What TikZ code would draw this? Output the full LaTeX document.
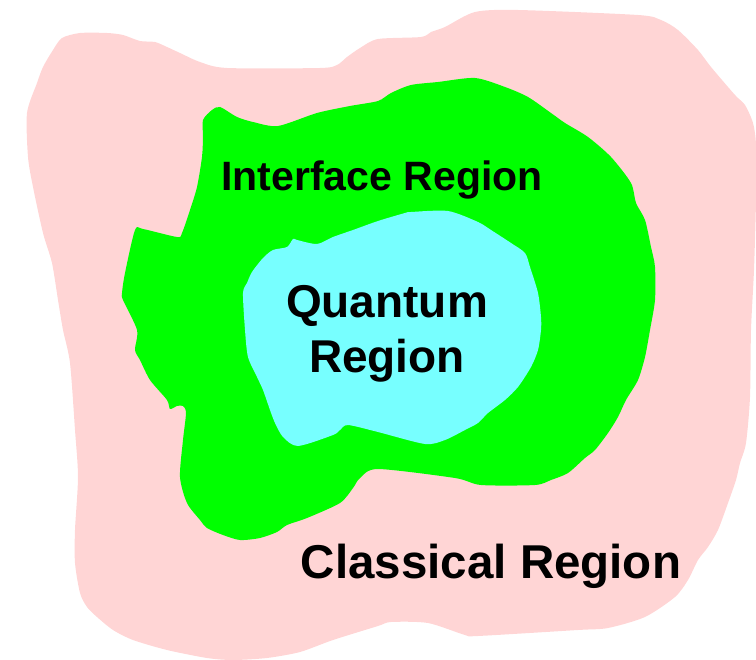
\documentclass[tikz,border=0pt]{standalone}
\usepackage{fontspec}
\setmainfont{Liberation Sans}
\usetikzlibrary{positioning}
\definecolor{ClassicPink}{HTML}{FFD5D5}
\definecolor{InterfaceGreen}{HTML}{00FF00}
\definecolor{QuantumCyan}{HTML}{77FFFF}
\definecolor{LabelInk}{HTML}{000000}
\tikzset{
  every node/.style={font=\bfseries, text=LabelInk, inner sep=0pt},
  region/.style={draw=none, smooth cycle, tension=0.45},
  label/.style={anchor=base},
}

\begin{document}
\begin{tikzpicture}[x=1pt,y=-1pt]
  \useasboundingbox (0,0) rectangle (756,660);

  % Classical region (outer blob)
  \fill[ClassicPink] plot[region] coordinates {
    (62,38) (80,33) (107,33) (123,35) (140,41) (155,42) (167,47) (180,53)
    (200,62) (227,68) (320,68) (337,65) (347,57) (360,48) (378,39) (421,37)
    (431,32) (445,27) (475,12) (518,10) (638,15) (661,20) (678,30) (698,50)
    (711,67) (735,95) (745,105) (753,123) (756,145) (756,200) (754,270)
    (751,330) (750,397) (746,443) (740,463) (736,480) (728,503) (718,530)
    (708,547) (698,560) (688,580) (675,597) (645,617) (608,628) (578,630)
    (478,636) (465,635) (428,623) (391,622) (378,626) (333,640) (300,652)
    (267,658) (233,660) (207,658) (167,650) (133,640) (113,630) (97,617)
    (87,607) (80,593) (75,563) (75,530) (78,477) (75,430) (70,363) (63,330)
    (58,300) (52,263) (43,233) (33,187) (28,157) (27,113) (37,83) (43,67)
    (53,50)};

  % Interface region (middle blob)
  \fill[InterfaceGreen] plot[region] coordinates {
    (203,120) (212,110) (220,107) (237,117) (253,122) (278,126) (317,113)
    (350,106) (378,101) (391,93) (411,85) (438,82) (475,78) (505,87)
    (528,97) (551,113) (565,123) (588,137) (611,157) (631,183) (636,203)
    (645,220) (651,247) (655,267) (655,300) (650,330) (645,357) (638,380)
    (626,400) (618,417) (608,433) (595,450) (585,458) (568,473) (551,480)
    (535,485) (481,485) (455,478) (378,469) (360,478) (353,488) (340,503)
    (307,518) (287,525) (277,532) (260,538) (240,540) (223,535) (207,528)
    (200,520) (187,503) (180,477) (183,440) (186,413) (183,406) (177,406)
    (170,409) (167,400) (150,380) (140,360) (135,350) (137,330)
    (123,300) (122,293) (125,273) (135,230) (143,229) (177,237) (182,233)
    (190,210) (197,187) (202,157) (203,137)};

  % Quantum region (inner blob)
  \fill[QuantumCyan] plot[region] coordinates {
    (378,221) (405,213) (411,212) (448,211) (478,222) (491,230) (511,243)
    (525,253) (530,267) (538,293) (541,317) (541,330) (538,350) (531,367)
    (518,387) (505,400) (488,413) (478,423) (465,430) (445,440) (425,444)
    (378,432) (348,425) (340,430) (333,435) (298,446) (283,437) (275,423)
    (270,410) (263,390) (257,377) (248,357) (245,330) (243,293) (247,283)
    (252,272) (263,258) (273,250) (287,247) (293,239) (297,240) (317,244)
    (333,237) (353,230)};

  % Labels
  \node[label, font=\fontsize{41}{48}\selectfont\bfseries] (interface) at (382,191) {Interface Region};
  \node[align=center, font=\fontsize{46}{55}\selectfont\bfseries] (quantum) at (387,334) {Quantum\\Region};
  \node[label, font=\fontsize{47.5}{55}\selectfont\bfseries] (classical) at (491,579) {Classical Region};
\end{tikzpicture}
\end{document}
